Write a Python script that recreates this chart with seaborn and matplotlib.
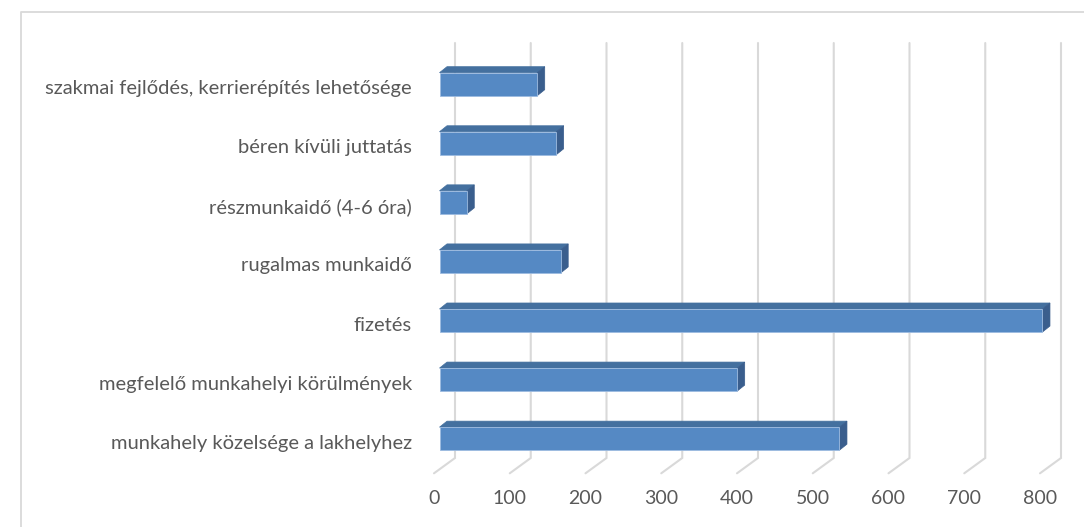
import numpy as np
import pandas as pd
import seaborn as sns
import matplotlib
matplotlib.use("Agg")
import matplotlib.pyplot as plt
from matplotlib.patches import Polygon
from matplotlib.lines import Line2D
from matplotlib.transforms import ScaledTranslation

# ---------------- data ----------------
categories = [
    "szakmai fejlődés, kerrierépítés lehetősége",
    "béren kívüli juttatás",
    "részmunkaidő (4-6 óra)",
    "rugalmas munkaidő",
    "fizetés",
    "megfelelő munkahelyi körülmények",
    "munkahely közelsége a lakhelyhez",
]
values = [129, 154, 36, 160, 796, 393, 528]
x_ticks = [0, 100, 200, 300, 400, 500, 600, 700, 800]

# ---------------- style ----------------
W, H, DPI = 1084, 527, 100
FRONT = "#5589c4"
TOP = "#44709f"
SIDE = "#3a5e8d"
EDGE = "#9dbbe0"
GRID = "#d9d9d9"
TEXT = "#595959"
FONT = ["Lato", "DejaVu Sans"]

sns.set_theme(style="white")
plt.rcParams["font.family"] = FONT

fig = plt.figure(figsize=(W / DPI, H / DPI), dpi=DPI)
fig.patch.set_facecolor("white")

# axes placement (pixels)
ax_left_px, ax_right_px = 439.5, 1045.5
ax_top_px, ax_bot_px = 54.66, 468.2
ax = fig.add_axes([ax_left_px / W, (H - ax_bot_px) / H,
                   (ax_right_px - ax_left_px) / W, (ax_bot_px - ax_top_px) / H])
ax.set_facecolor("none")

xmin, xmax = 0, 800
n = len(categories)
px_per_x = (ax_right_px - ax_left_px) / (xmax - xmin)
px_per_y = (ax_bot_px - ax_top_px) / n

def ux(px):
    return px / px_per_x

def uy(px):
    return px / px_per_y

# 3D geometry offsets (pixels -> data units)
BACK_DX = ux(15.5)
FRONT_DX = ux(-5.5)
WALL_TOP = -0.5 + uy(43 - ax_top_px)
WALL_BOT = -0.5 + uy(458 - ax_top_px)
FLOOR_FRONT = -0.5 + uy(473.3 - ax_top_px)
LABEL_Y = -0.5 + uy(499 - ax_top_px)
DEPTH_X = ux(7.5)
DEPTH_Y = uy(6.0)

# gridlines: back wall + floor diagonals
for t in x_ticks:
    ax.add_line(Line2D([t + BACK_DX, t + BACK_DX, t + FRONT_DX],
                       [WALL_TOP, WALL_BOT, FLOOR_FRONT],
                       color=GRID, lw=1.5, zorder=0, clip_on=False,
                       solid_joinstyle="miter"))
    ax.text(t + FRONT_DX, LABEL_Y, f"{t}", ha="center", va="center",
            fontsize=14, color=TEXT, clip_on=False)

df = pd.DataFrame({"kategoria": categories, "ertek": values})
sns.barplot(data=df, x="ertek", y="kategoria", orient="h", color=FRONT,
            saturation=1, width=0.39, ax=ax, edgecolor=EDGE, linewidth=0.6,
            zorder=3)

for p in list(ax.patches):
    x0, y0 = p.get_x(), p.get_y()
    w, h = p.get_width(), p.get_height()
    x1 = x0 + w
    top = Polygon([(x0, y0), (x1, y0), (x1 + DEPTH_X, y0 - DEPTH_Y),
                   (x0 + DEPTH_X, y0 - DEPTH_Y)], closed=True,
                  facecolor=TOP, edgecolor=TOP, lw=0.5, zorder=2.9, clip_on=False)
    side = Polygon([(x1, y0), (x1 + DEPTH_X, y0 - DEPTH_Y),
                    (x1 + DEPTH_X, y0 + h - DEPTH_Y), (x1, y0 + h)], closed=True,
                   facecolor=SIDE, edgecolor=SIDE, lw=0.5, zorder=2.9, clip_on=False)
    ax.add_patch(top)
    ax.add_patch(side)

ax.set_xlim(xmin, xmax)
ax.set_ylim(n - 0.5, -0.5)
ax.set_xlabel("")
ax.set_ylabel("")
ax.set_xticks([])
for s in ax.spines.values():
    s.set_visible(False)
ax.tick_params(axis="y", length=0, pad=19.8, labelsize=14.5, labelcolor=TEXT)
shift = ScaledTranslation(0, -3 / DPI, fig.dpi_scale_trans)
for lab in ax.get_yticklabels():
    lab.set_transform(lab.get_transform() + shift)

# outer chart-area border (left and top edges visible)
fig.add_artist(Line2D([20.5 / W, 20.5 / W, 1.0], [0.0, 1 - 11.5 / H, 1 - 11.5 / H],
                      transform=fig.transFigure, color=GRID, lw=1.3))

fig.savefig("out.png", dpi=DPI, facecolor="white")
